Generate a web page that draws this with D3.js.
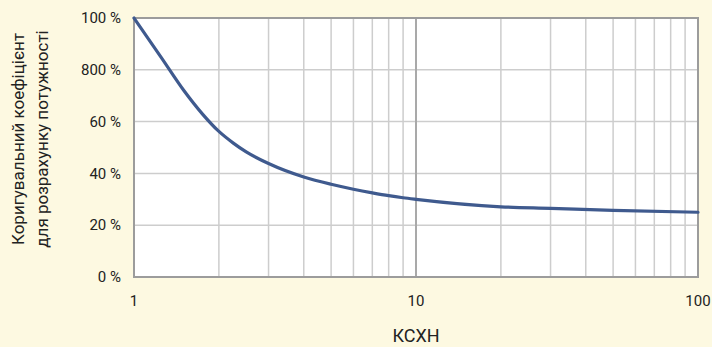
<!DOCTYPE html>
<html>
<head>
<meta charset="utf-8">
<script src="https://cdn.jsdelivr.net/npm/d3@7"></script>
<style>
  html, body { margin: 0; padding: 0; background: #fdf9e1; }
  svg { display: block; font-family: "Roboto", "Liberation Sans", sans-serif; }
  .tick-label { font-size: 15px; fill: #222; }
  .axis-title { font-size: 18px; fill: #222; }
</style>
</head>
<body>
<div id="chart"></div>
<script>
// chart values
const ksxn   = [1, 1.25, 1.5, 1.75, 2, 2.25, 2.5, 3, 4, 5, 6, 7, 8, 9, 10, 20, 30, 50, 100];
const factor = [100, 84.7, 72.1, 62.9, 56.2, 51.7, 48.3, 43.8, 38.6, 35.8, 33.9, 32.5, 31.4, 30.6, 30, 27.1, 26.5, 25.7, 25];

const yTicks      = [0, 20, 40, 60, 80, 100];
const yTickLabels = ['0 %', '20 %', '40 %', '60 %', '800 %', '100 %'];
const xTicks      = [1, 10, 100];
const xMinorTicks = [2, 3, 4, 5, 6, 7, 8, 9, 20, 30, 40, 50, 60, 70, 80, 90];
const yTitle = ['Коригувальний коефіцієнт', 'для розрахунку потужності'];
const xTitle = 'КСХН';

const margin = { top: 18, right: 14, bottom: 70, left: 134 };
const width  = 712 - margin.left - margin.right;
const height = 347 - margin.top  - margin.bottom;

const x = d3.scaleLog().domain([1, 100]).range([0, width]);
const y = d3.scaleLinear().domain([0, 100]).range([height, 0]);

const svg = d3.select('#chart').append('svg')
    .attr('width',  712)
    .attr('height', 347);

const g = svg.append('g')
    .attr('transform', `translate(${margin.left},${margin.top})`);

g.append('rect')
    .attr('width', width)
    .attr('height', height)
    .attr('fill', '#fff');

// grid
g.append('g')
  .selectAll('line')
  .data(xMinorTicks)
  .join('line')
    .attr('x1', d => x(d)).attr('x2', d => x(d))
    .attr('y1', 0).attr('y2', height)
    .attr('stroke', '#cdcdcd')
    .attr('stroke-width', 1.5);

g.append('g')
  .selectAll('line')
  .data(yTicks.slice(1, -1))
  .join('line')
    .attr('x1', 0).attr('x2', width)
    .attr('y1', d => y(d)).attr('y2', d => y(d))
    .attr('stroke', '#cdcdcd')
    .attr('stroke-width', 1.5);

g.append('line')
    .attr('x1', x(10)).attr('x2', x(10))
    .attr('y1', 0).attr('y2', height)
    .attr('stroke', '#a9a9a9')
    .attr('stroke-width', 2);

g.append('rect')
    .attr('width', width)
    .attr('height', height)
    .attr('fill', 'none')
    .attr('stroke', '#9c9c9c')
    .attr('stroke-width', 2);

// curve
const line = d3.line()
    .x((d, i) => x(ksxn[i]))
    .y(d => y(d))
    .curve(d3.curveMonotoneX);

g.append('path')
    .datum(factor)
    .attr('d', line)
    .attr('fill', 'none')
    .attr('stroke', '#3f5a8e')
    .attr('stroke-width', 3.2)
    .attr('stroke-linecap', 'round');

// tick labels
g.append('g')
  .selectAll('text')
  .data(yTicks)
  .join('text')
    .attr('class', 'tick-label')
    .attr('x', -13)
    .attr('y', d => y(d))
    .attr('dy', '0.35em')
    .attr('text-anchor', 'end')
    .text((d, i) => yTickLabels[i]);

g.append('g')
  .selectAll('text')
  .data(xTicks)
  .join('text')
    .attr('class', 'tick-label')
    .attr('x', d => x(d))
    .attr('y', height + 29)
    .attr('text-anchor', 'middle')
    .text(d => d);

// titles
g.append('text')
    .attr('class', 'axis-title')
    .attr('x', width / 2)
    .attr('y', height + 65)
    .attr('text-anchor', 'middle')
    .text(xTitle);

svg.append('g')
    .attr('transform', 'translate(0,139) rotate(-90)')
  .selectAll('text')
  .data(yTitle)
  .join('text')
    .attr('class', 'axis-title')
    .style('font-size', '17px')
    .attr('x', 0)
    .attr('y', (d, i) => 24 + i * 24)
    .attr('text-anchor', 'middle')
    .text(d => d);
</script>
</body>
</html>
